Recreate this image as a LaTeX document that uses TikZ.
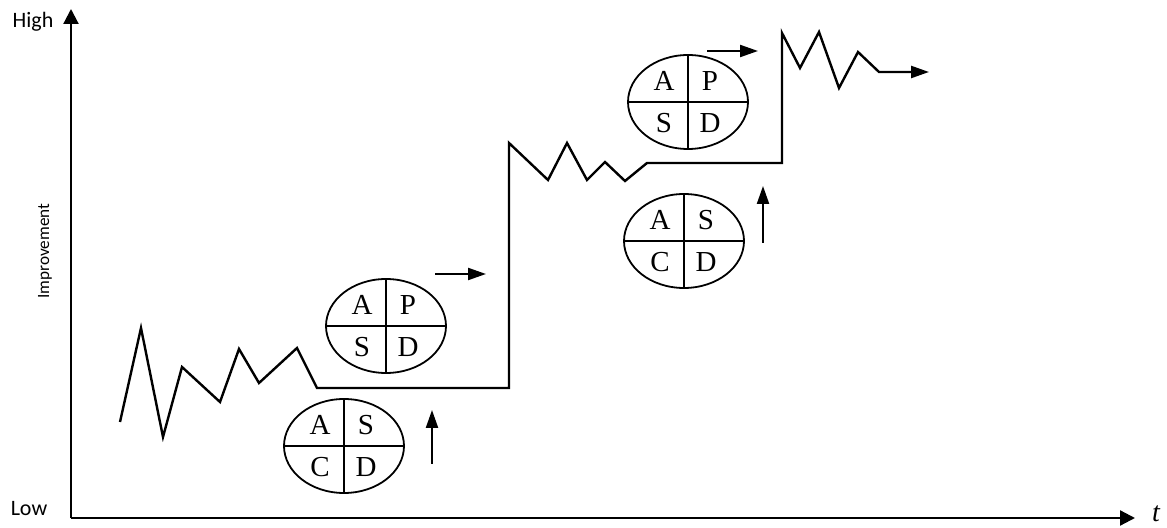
\documentclass[tikz,border=0pt]{standalone}
\usepackage{fontspec}
\setmainfont{Liberation Serif}
\newfontfamily\labelfont{Carlito}
\usetikzlibrary{arrows.meta,shapes.geometric,calc}
\tikzset{
  axis/.style={line width=1.1pt,-{Triangle[length=7.5pt,width=7.5pt]}},
  trend/.style={line width=1.2pt,line join=miter,-{Triangle[length=9pt,width=6pt]}},
  nudge/.style={line width=1.1pt,-{Triangle[length=9pt,width=6pt]}},
  wheel/.style={draw,ellipse,line width=0.9pt,minimum width=60pt,minimum height=47pt,inner sep=0pt},
  letter/.style={font=\fontsize{14.5}{15}\selectfont,inner sep=0pt},
  lbl/.style={font=\labelfont\fontsize{11}{12}\selectfont,inner sep=0pt}
}
% one PDCA wheel: name, centre, then the four letters (top left, top right, bottom left, bottom right)
\newcommand{\pdcawheel}[6]{%
  \node[wheel] (#1) at (#2) {};
  \draw[line width=0.9pt] (#1.north) -- (#1.south) (#1.west) -- (#1.east);
  \node[letter] (#1-tl) at ($(#1.center)+(-24,-21)$) {#3};
  \node[letter] (#1-tr) at ($(#1.center)+(22,-21)$) {#4};
  \node[letter] (#1-bl) at ($(#1.center)+(-24,21)$) {#5};
  \node[letter] (#1-br) at ($(#1.center)+(22,21)$) {#6};}

\begin{document}
\begin{tikzpicture}[x=0.5pt,y=-0.5pt]
  \useasboundingbox (0,0) rectangle (1167,528);
  % axes
  \coordinate (origin) at (71,518);
  \coordinate (ytop) at (71,9);
  \coordinate (xend) at (1135,518);
  \draw[axis] (origin) -- (ytop);
  \draw[axis] (origin) -- (xend);
  \node[lbl] (high) at (33,22) {High};
  \node[lbl] (low) at (29,509) {Low};
  \node[lbl,font=\labelfont\fontsize{8.6}{9}\selectfont,rotate=90] (improve) at (45,251) {Improvement};
  \node[font=\fontsize{14}{14}\selectfont\itshape,inner sep=0pt] (time) at (1156,514) {t};
  % improvement path with two steps
  \draw[trend] (120,422) -- (141,328) -- (163,437) -- (182,367) -- (220,402) -- (239,349)
    -- (259,383) -- (297,348) -- (317,388) -- (509,388) -- (509,143) -- (548,180)
    -- (567,143) -- (587,180) -- (605,162) -- (625,181) -- (647,163) -- (782,163)
    -- (782,33) -- (800,68) -- (819,32) -- (839,88) -- (858,52) -- (879,72) -- (929,72);
  % wheels
  \pdcawheel{sdcaA}{344,446}{A}{S}{C}{D}
  \pdcawheel{pdsaA}{386,326}{A}{P}{S}{D}
  \pdcawheel{sdcaB}{684,241}{A}{S}{C}{D}
  \pdcawheel{pdsaB}{688,102}{A}{P}{S}{D}
  % small arrows
  \coordinate (upA0) at (432,464);  \coordinate (upA1) at (432,410);
  \coordinate (upB0) at (763,243);  \coordinate (upB1) at (763,186);
  \coordinate (rtA0) at (435,274);  \coordinate (rtA1) at (486,274);
  \coordinate (rtB0) at (707,51);   \coordinate (rtB1) at (758,51);
  \draw[nudge] (upA0) -- (upA1);
  \draw[nudge] (upB0) -- (upB1);
  \draw[nudge] (rtA0) -- (rtA1);
  \draw[nudge] (rtB0) -- (rtB1);
\end{tikzpicture}
\end{document}
